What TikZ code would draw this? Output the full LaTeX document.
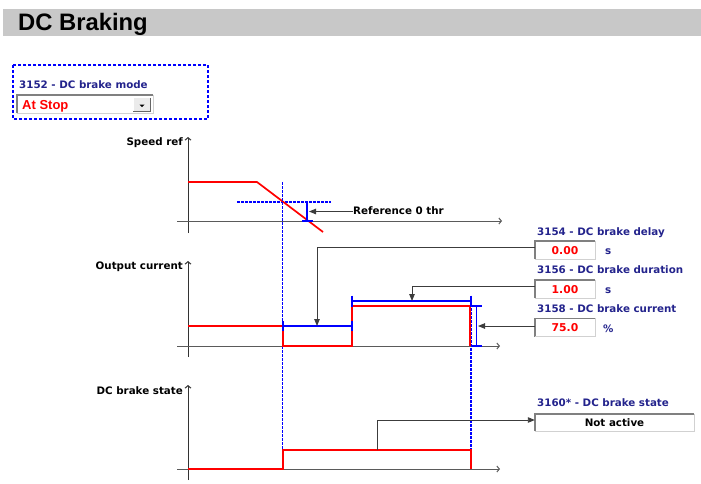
\documentclass[tikz,border=0pt]{standalone}
\usepackage{fontspec}
\setmainfont{DejaVu Sans}
\newfontfamily\arialfam{Liberation Sans}
\usetikzlibrary{arrows.meta}
\definecolor{navy}{RGB}{35,35,140}
\definecolor{titlegray}{RGB}{200,200,200}
\definecolor{axgray}{RGB}{90,90,90}
\definecolor{ptrgray}{RGB}{60,60,60}
\begin{document}
\begin{tikzpicture}[x=1pt,y=-1pt,
  lbl/.style={inner sep=0pt, anchor=base west, text=navy, font=\bfseries\fontsize{10.3}{12}\selectfont},
  axlbl/.style={inner sep=0pt, anchor=base east, text=black, font=\bfseries\fontsize{10.3}{12}\selectfont},
  valbox/.style={inner sep=0pt, minimum width=60pt, minimum height=18pt, fill=white, text=red, text depth=0pt, font=\bfseries\fontsize{10.8}{12}\selectfont},
  unit/.style={inner sep=0pt, anchor=base west, text=navy, font=\bfseries\fontsize{10.3}{12}\selectfont},
  axisline/.style={draw=axgray, line width=1pt, -{Straight Barb[length=2.5pt,width=6pt]}},
  vaxis/.style={draw=black!80, line width=1pt, -{Straight Barb[length=2.5pt,width=6pt]}},
  sig/.style={draw=red, line width=1.7pt},
  bmark/.style={draw=blue, line width=1.5pt},
  vdash/.style={draw=blue, line width=1.5pt, dash pattern=on 2.5pt off 1.5pt},
  ptr/.style={draw=ptrgray, line width=0.9pt, -{Triangle[length=7pt,width=5.5pt]}},
  sunkdark/.style={draw=black!50, line width=1.6pt},
  sunklight/.style={draw=black!18, line width=0.8pt}
]
\useasboundingbox (0,0) rectangle (701,483);

% title
\fill[titlegray] (3,9) rectangle (701,36);
\node[inner sep=0pt, anchor=base west, font=\arialfam\bfseries\fontsize{23.8}{28}\selectfont] (title) at (18,30) {DC Braking};

% mode selector
\draw[blue, line width=1.4pt, dash pattern=on 3pt off 2pt] (13,65) rectangle (208,119);
\node[lbl] (l3152) at (19,88) {3152 - DC brake mode};
\node[inner sep=0pt, minimum width=136pt, minimum height=18pt, fill=white] (combo) at (85,104) {};
\draw[sunkdark] (combo.south west) |- (combo.north east);
\draw[sunklight] (combo.north east) |- (combo.south west);
\node[inner sep=0pt, minimum width=17pt, minimum height=13pt, fill=black!8] (btn) at (142,104.5) {};
\draw[draw=white, line width=0.8pt] (btn.south west) |- (btn.north east);
\draw[draw=black!60, line width=0.8pt] (btn.north east) |- (btn.south west);
\fill[black] (139.5,104.5) -- (144.5,104.5) -- (142,107) -- cycle;
\node[inner sep=0pt, anchor=base west, text=red, font=\arialfam\bfseries\fontsize{13}{16}\selectfont] (atstop) at (22,109) {At Stop};

% ---------- Speed ref ----------
\node[axlbl] (lspeed) at (183,145.7) {Speed ref};
\coordinate (s0) at (188,233); \coordinate (s1) at (188,137);
\draw[vaxis] (s0) -- (s1);
\coordinate (h0) at (177,221); \coordinate (h1) at (502,221);
\draw[axisline] (h0) -- (h1);
\draw[vdash] (237,202) -- (331,202);
\draw[sig] (188,182) -- (257,182) -- (323,232);
\draw[bmark] (307,202) -- (307,221);
\draw[bmark] (302,221) -- (313,221);
\node[inner sep=0pt, anchor=base west, font=\bfseries\fontsize{10.3}{12}\selectfont] (ref0) at (353,214.5) {Reference 0 thr};
\coordinate (refTip) at (309,211.5);
\draw[ptr] (ref0.west |- refTip) -- (refTip);

% dashed event lines
\draw[vdash] (282.5,182) -- (282.5,450);
\draw[vdash] (471,296) -- (471,469);

% ---------- Output current ----------
\node[axlbl] (lout) at (183,269.3) {Output current};
\coordinate (o0) at (188,357); \coordinate (o1) at (188,261);
\draw[vaxis] (o0) -- (o1);
\coordinate (oh0) at (177,346); \coordinate (oh1) at (500,346);
\draw[axisline] (oh0) -- (oh1);
\draw[sig] (188,326) -- (283,326) -- (283,346) -- (352,346) -- (352,306) -- (470,306) -- (470,346);
\draw[bmark] (283,326) -- (352,326);
\draw[bmark] (283,321) -- (283,331);
\draw[bmark] (352,321) -- (352,331);
\draw[bmark] (352,301) -- (471,301);
\draw[bmark] (352,295.5) -- (352,306.5);
\draw[bmark] (471,295.5) -- (471,306.5);
\draw[bmark] (476.5,306) -- (476.5,346);
\draw[bmark] (470.5,306) -- (482,306);
\draw[bmark] (470.5,346) -- (482,346);

% ---------- parameter boxes ----------
\node[lbl] (l3154) at (537,235) {3154 - DC brake delay};
\node[valbox] (b3154) at (565,250) {0.00};
\node[unit] (u3154) at (605,254.3) {s};
\node[lbl] (l3156) at (537,273.3) {3156 - DC brake duration};
\node[valbox] (b3156) at (565,289) {1.00};
\node[unit] (u3156) at (605,293.3) {s};
\node[lbl] (l3158) at (537,312) {3158 - DC brake current};
\node[valbox] (b3158) at (565,327.5) {75.0};
\node[unit] (u3158) at (603,332) {\%};
\foreach \b in {b3154,b3156,b3158}{
  \draw[sunkdark] (\b.south west) |- (\b.north east);
  \draw[sunklight] (\b.north east) |- (\b.south west);
}
\coordinate (t3154) at (317,326);
\coordinate (t3156) at (412,301);
\coordinate (t3158) at (478,326);
\draw[ptr] ([yshift=3pt]b3154.west) -| (t3154);
\draw[ptr] ([yshift=2.5pt]b3156.west) -| (t3156);
\draw[ptr] (b3158.west |- t3158) -- (t3158);

% ---------- DC brake state ----------
\node[axlbl] (lstate) at (183,394) {DC brake state};
\coordinate (d0) at (188,480); \coordinate (d1) at (188,385);
\draw[vaxis] (d0) -- (d1);
\coordinate (dh0) at (177,469); \coordinate (dh1) at (500,469);
\draw[axisline] (dh0) -- (dh1);
\draw[sig] (188,469) -- (283,469) -- (283,450) -- (471,450) -- (471,469);

\node[lbl] (l3160) at (537,406.7) {3160* - DC brake state};
\node[inner sep=0pt, minimum width=159pt, minimum height=17pt, fill=white, text depth=0pt, font=\bfseries\fontsize{10.3}{12}\selectfont] (b3160) at (614.5,422.5) {Not active};
\draw[sunkdark] (b3160.south west) |- (b3160.north east);
\draw[sunklight] (b3160.north east) |- (b3160.south west);
\coordinate (src3160) at (377,450);
\draw[ptr] (src3160) |- ([yshift=2.5pt]b3160.west);
\end{tikzpicture}
\end{document}
